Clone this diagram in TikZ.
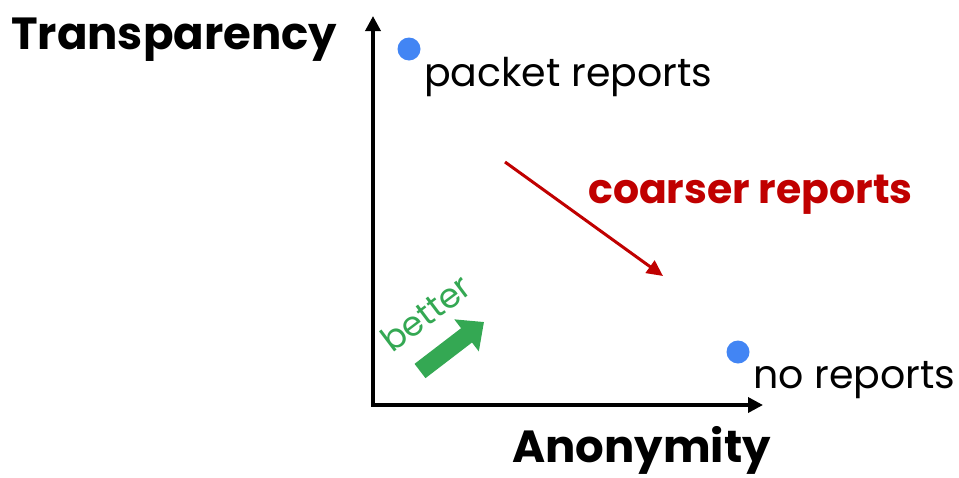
\documentclass[tikz,border=0pt]{standalone}
\usepackage{fontspec}
\setmainfont{Poppins}
\usetikzlibrary{arrows.meta}
\definecolor{gblue}{HTML}{4285F4}
\definecolor{gred}{HTML}{C00000}
\definecolor{ggreen}{HTML}{34A853}
\begin{document}
\begin{tikzpicture}[x=1pt,y=-1pt,
  axis/.style={line width=3.5pt,-{Triangle[length=15pt,width=15pt]}},
  dot/.style={circle,fill=gblue,minimum size=23pt,inner sep=0pt},
  lbl/.style={anchor=base west,inner sep=0pt,font=\fontsize{39.5}{41}\selectfont},
  title/.style={anchor=base west,inner sep=0pt,font=\fontsize{45}{47}\selectfont\bfseries}]
\useasboundingbox (0,0) rectangle (959,477);
% axes
\coordinate (o) at (373,405);
\coordinate (ytop) at (373,16);
\coordinate (xend) at (763,405);
\draw[axis] ([yshift=-1.75pt]o) -- (ytop);
\draw[axis] ([xshift=-1.75pt]o) -- (xend);
% axis titles
\node[title] (ty) at (11,49) {Transparency};
\node[title] (tx) at (512,462) {Anonymity};
% data points
\node[dot] (p1) at (409,49) {};
\node[lbl] (l1) at (424,86) {packet reports};
\node[dot] (p2) at (738,352) {};
\node[lbl] (l2) at (753,388) {no reports};
% trend
\coordinate (c1) at (505,162);
\coordinate (c2) at (663,276);
\draw[gred,line width=3pt,-{Triangle[length=16pt,width=15pt]}] (c1) -- (c2);
\node[anchor=base west,inner sep=0pt,text=gred,font=\fontsize{41}{43}\selectfont\bfseries] (cr) at (588,203) {coarser reports};
% better direction
\coordinate (b1) at (420,371);
\coordinate (b2) at (484,322);
\draw[ggreen,line width=18pt,-{Triangle[length=22pt,width=39pt]}] (b1) -- (b2);
\node[anchor=base west,inner sep=0pt,text=ggreen,rotate=37,font=\fontsize{34}{36}\selectfont] (bt) at (392,354) {better};
\end{tikzpicture}
\end{document}
